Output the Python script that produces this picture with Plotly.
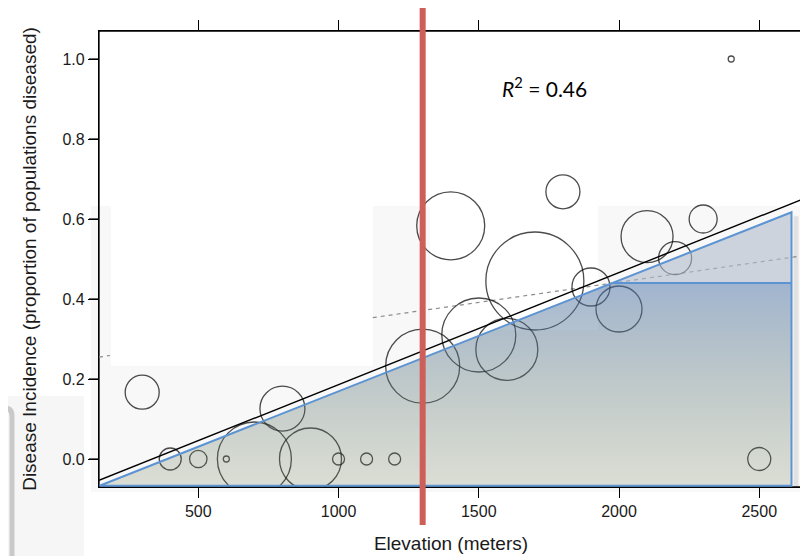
import plotly.graph_objects as go

# ---- data ----
elevation = [300, 400, 500, 600, 700, 800, 900, 1000, 1100, 1200, 1300, 1400,
             1500, 1600, 1700, 1800, 1900, 2000, 2100, 2200, 2300, 2400, 2500]
incidence = [0.167, 0.0, 0.0, 0.0, 0.0, 0.126, 0.0, 0.0, 0.0, 0.0, 0.232, 0.583,
             0.31, 0.274, 0.445, 0.668, 0.43, 0.375, 0.556, 0.502, 0.600, 1.0, 0.0]
# relative number of populations sampled (bubble radius units)
n_populations = [17, 11, 8.7, 3, 37, 22.5, 31, 6, 6, 6, 37, 34,
                 37, 31, 49, 17, 19, 23, 26, 16.5, 14, 3, 11.5]

x_ticks = [500, 1000, 1500, 2000, 2500]
y_ticks = [0.0, 0.2, 0.4, 0.6, 0.8, 1.0]
x_range = [146, 2656]
y_range = [-0.07, 1.07]

fit_intercept, fit_slope = -0.0942, 0.0002802        # weighted fit (black)
alt_intercept, alt_slope = 0.240, 0.000101           # unweighted fit (dashed)
r2_text = "<i>R</i><sup>2</sup> = 0.46"
threshold_elev = 1300                                 # red reference line

# overlay wedge (highlight)
wedge_x = [148, 1975, 2615, 2615]
wedge_y = [-0.067, 0.44, 0.44, -0.067]
wedge_top_x = [1975, 2615, 2615]
wedge_top_y = [0.44, 0.617, 0.44]

fig = go.Figure()

# dashed alternative fit (partially hidden)
dash_x = [x_range[0], 185, None, 1122, x_range[1]]
dash_y = [alt_intercept + alt_slope * v if v is not None else None for v in dash_x]
fig.add_trace(go.Scatter(x=dash_x, y=dash_y, mode="lines",
                         line=dict(color="#8c8c8c", width=1.2, dash="4px,4px"),
                         hoverinfo="skip", showlegend=False))

# bubbles
fig.add_trace(go.Scatter(
    x=elevation, y=incidence, mode="markers",
    marker=dict(size=n_populations, sizemode="diameter", sizeref=0.5,
                color="rgba(0,0,0,0)", line=dict(color="black", width=1.3)),
    showlegend=False))

# wedge drop shadow on the right side
fig.add_trace(go.Scatter(
    x=[wedge_x[3] + 16, wedge_x[3] + 16], y=[wedge_top_y[1] - 0.01, y_range[0]],
    mode="lines", line=dict(color="rgba(0,0,0,0.09)", width=5),
    hoverinfo="skip", showlegend=False))

# wedge gradient fill
fig.add_trace(go.Scatter(
    x=wedge_x + [wedge_x[0]], y=wedge_y + [wedge_y[0]],
    mode="lines", fill="toself", line=dict(width=0),
    fillgradient=dict(type="vertical",
                      colorscale=[[0, "rgba(102,117,72,0.2)"],
                                  [1, "rgba(80,118,170,0.52)"]],
                      start=-0.07, stop=0.44),
    hoverinfo="skip", showlegend=False))

fig.add_trace(go.Scatter(
    x=wedge_top_x + [wedge_top_x[0]], y=wedge_top_y + [wedge_top_y[0]],
    mode="lines", fill="toself", fillcolor="rgba(177,187,204,0.6)",
    line=dict(width=0), hoverinfo="skip", showlegend=False))

# regression line
fig.add_trace(go.Scatter(
    x=x_range, y=[fit_intercept + fit_slope * v for v in x_range],
    mode="lines", line=dict(color="black", width=1.4),
    hoverinfo="skip", showlegend=False))

# wedge outline
fig.add_trace(go.Scatter(
    x=[wedge_x[0], wedge_top_x[1], wedge_x[3], wedge_x[0], None, wedge_x[1], wedge_x[2]],
    y=[wedge_y[0], wedge_top_y[1], wedge_y[3], wedge_y[0], None, wedge_y[1], wedge_y[2]],
    mode="lines", line=dict(color="#5b93d3", width=2),
    hoverinfo="skip", showlegend=False))

# page is offset by the default 8px body margin; the figure fills the rest
PAGE_OFF = 8
W, H = 808 - PAGE_OFF, 556 - PAGE_OFF
PLOT_L, PLOT_R, PLOT_T, PLOT_B = 99, 803, 31, 487          # plot box in window pixels
L, R, T, B = PLOT_L - PAGE_OFF, 808 - PLOT_R, PLOT_T - PAGE_OFF, 556 - PLOT_B
pw, ph = PLOT_R - PLOT_L, PLOT_B - PLOT_T
TICK_LEN = 10


def px(xp):
    return (xp - PLOT_L) / pw


def py(yp):
    return (PLOT_B - yp) / ph


shapes = [
    # faint background panels
    dict(type="rect", xref="paper", yref="paper", x0=px(91), x1=px(808), y0=py(492), y1=py(206),
         fillcolor="#f8f8f8", line=dict(width=0), layer="below"),
    dict(type="rect", xref="paper", yref="paper", x0=px(111), x1=px(373), y0=py(366), y1=py(206),
         fillcolor="white", line=dict(width=0), layer="below"),
    dict(type="rect", xref="paper", yref="paper", x0=px(430), x1=px(598), y0=py(330), y1=py(206),
         fillcolor="white", line=dict(width=0), layer="below"),
    dict(type="rect", xref="paper", yref="paper", x0=px(0), x1=px(84), y0=py(556), y1=py(396),
         fillcolor="#f6f6f6", line=dict(width=0), layer="below"),
    dict(type="path", xref="paper", yref="paper",
         path=f"M {px(0)},{py(408)} L {px(5)},{py(408)} Q {px(12)},{py(408)} {px(12)},{py(416)} L {px(12)},{py(556)}",
         line=dict(color="#c9c9c9", width=5), layer="below"),
    # plot frame
    dict(type="rect", xref="paper", yref="paper", x0=0, x1=1, y0=0, y1=1,
         line=dict(color="black", width=1.3), fillcolor="rgba(0,0,0,0)", layer="below"),
    # red reference line
    dict(type="line", xref="x", yref="paper", x0=threshold_elev, x1=threshold_elev,
         y0=py(525), y1=py(6), line=dict(color="#cd5f58", width=6), layer="above"),
]
# left-hand tick marks (outside the frame)
for v in y_ticks:
    shapes.append(dict(type="line", xref="paper", yref="y", x0=px(PLOT_L - TICK_LEN), x1=0,
                       y0=v, y1=v, line=dict(color="black", width=1.2), layer="above"))

axis_common = dict(showline=True, linecolor="black", linewidth=1.3, mirror="ticks",
                   ticks="outside", ticklen=TICK_LEN, tickwidth=1.2, tickcolor="black",
                   showgrid=False, zeroline=False, automargin=False,
                   tickfont=dict(family="Liberation Sans, Arial", size=16, color="#1a1a1a"),
                   layer="below traces")

fig.update_layout(
    template="none",
    width=W, height=H,
    margin=dict(l=L, r=R, t=T, b=B, autoexpand=False),
    paper_bgcolor="white", plot_bgcolor="rgba(0,0,0,0)",
    xaxis=dict(range=x_range, tickvals=x_ticks, ticktext=[str(v) for v in x_ticks],
               title=dict(text="Elevation (meters)", standoff=17,
                          font=dict(family="Liberation Sans, Arial", size=19, color="#1a1a1a")),
               **axis_common),
    yaxis=dict(range=y_range, tickvals=y_ticks, ticktext=[f"{v:.1f}" for v in y_ticks],
               title=dict(text="Disease Incidence (proportion of populations diseased)", standoff=20,
                          font=dict(family="Liberation Sans, Arial", size=19, color="#1a1a1a")),
               **axis_common),
    shapes=shapes,
    annotations=[dict(x=1736, y=0.93, xref="x", yref="y", text=r2_text, showarrow=False,
                      font=dict(family="Lato, Open Sans", size=21, color="black"))],
)

fig.write_html("out.html", config={"displayModeBar": False})
